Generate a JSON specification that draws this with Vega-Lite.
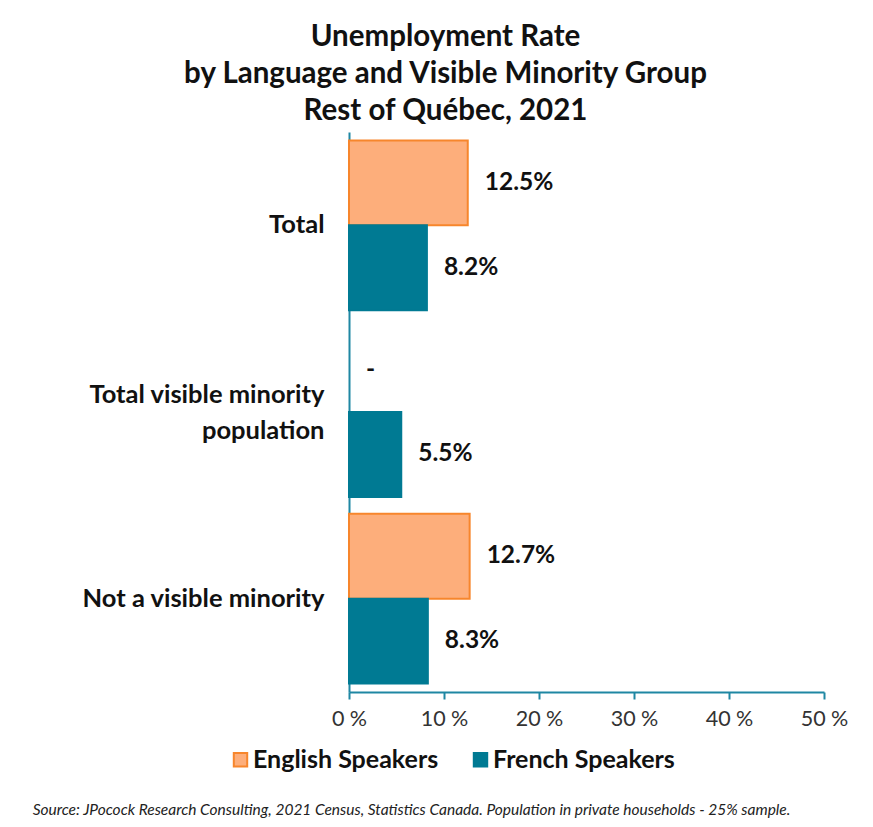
{
  "$schema": "https://vega.github.io/schema/vega-lite/v6.json",
  "autosize": {"type": "none"},
  "padding": {"left": 349, "top": 132, "right": 49, "bottom": 135},
  "width": 475,
  "height": 560,
  "background": "white",
  "config": {
    "font": "Lato",
    "view": {"stroke": null}
  },
  "title": {
    "text": ["Unemployment Rate", "by Language and Visible Minority Group", "Rest of Québec, 2021"],
    "font": "Lato",
    "fontSize": 29.5,
    "fontWeight": "bold",
    "color": "#111111",
    "lineHeight": 37,
    "anchor": "middle",
    "frame": "group",
    "dx": -141,
    "offset": 6
  },
  "data": {
    "values": [
      {"category": "Total", "language": "English Speakers", "value": 12.5, "label": "12.5%"},
      {"category": "Total", "language": "French Speakers", "value": 8.2, "label": "8.2%"},
      {"category": "Total visible minority population", "language": "English Speakers", "value": null, "label": "-"},
      {"category": "Total visible minority population", "language": "French Speakers", "value": 5.5, "label": "5.5%"},
      {"category": "Not a visible minority", "language": "English Speakers", "value": 12.7, "label": "12.7%"},
      {"category": "Not a visible minority", "language": "French Speakers", "value": 8.3, "label": "8.3%"}
    ]
  },
  "encoding": {
    "y": {
      "field": "category",
      "type": "nominal",
      "sort": ["Total", "Total visible minority population", "Not a visible minority"],
      "scale": {"paddingInner": 0.09, "paddingOuter": 0.045},
      "axis": {
        "title": null,
        "ticks": false,
        "domainColor": "#1f87a3",
        "domainWidth": 2,
        "labelFont": "Lato",
        "labelFontSize": 25.5,
        "labelFontWeight": "bold",
        "labelColor": "#111111",
        "labelPadding": 25,
        "labelLineHeight": 36,
        "labelLimit": 400,
        "labelOffset": {"condition": {"test": "datum.value == 'Total visible minority population'", "value": -17}, "value": 0},
        "labelExpr": "datum.value == 'Total visible minority population' ? ['Total visible minority', 'population'] : datum.value"
      }
    },
    "yOffset": {
      "field": "language",
      "type": "nominal",
      "sort": ["English Speakers", "French Speakers"],
      "scale": {"paddingInner": 0, "paddingOuter": 0}
    }
  },
  "layer": [
    {
      "mark": {"type": "bar", "strokeWidth": 2},
      "encoding": {
        "x": {
          "field": "value",
          "type": "quantitative",
          "scale": {"domain": [0, 50], "nice": false},
          "axis": {
            "title": "Source: JPocock Research Consulting, 2021 Census, Statistics Canada. Population in private households - 25% sample.",
            "titleFont": "Lato",
            "titleFontSize": 15.5,
            "titleFontStyle": "italic",
            "titleFontWeight": "normal",
            "titleColor": "#222222",
            "titleAnchor": "middle",
            "titleX": 62,
            "titleY": 110,
            "values": [0, 10, 20, 30, 40, 50],
            "grid": false,
            "domainColor": "#1f87a3",
            "domainWidth": 2,
            "tickColor": "#1f87a3",
            "tickWidth": 2,
            "tickSize": 7,
            "labelFont": "Lato",
            "labelFontSize": 21.5,
            "labelColor": "#333333",
            "labelPadding": 9,
            "labelFlush": false,
            "labelExpr": "datum.value + ' %'"
          }
        },
        "fill": {
          "field": "language",
          "type": "nominal",
          "scale": {"domain": ["English Speakers", "French Speakers"], "range": ["#fdae7b", "#007a93"]},
          "legend": {
            "title": null,
            "orient": "none",
            "direction": "horizontal",
            "legendX": -121,
            "legendY": 615,
            "symbolType": "square",
            "symbolSize": 180,
            "symbolStrokeWidth": 2,
            "labelFont": "Lato",
            "labelFontSize": 25,
            "labelFontWeight": "bold",
            "labelColor": "#111111",
            "labelLimit": 300,
            "columnPadding": 29,
            "labelOffset": 0
          }
        },
        "stroke": {
          "field": "language",
          "type": "nominal",
          "scale": {"domain": ["English Speakers", "French Speakers"], "range": ["#f7862c", "#007a93"]},
          "legend": {
            "title": null,
            "orient": "none",
            "direction": "horizontal",
            "legendX": -121,
            "legendY": 615,
            "symbolType": "square",
            "symbolSize": 180,
            "symbolStrokeWidth": 2,
            "labelFont": "Lato",
            "labelFontSize": 25,
            "labelFontWeight": "bold",
            "labelColor": "#111111",
            "labelLimit": 300,
            "columnPadding": 29,
            "labelOffset": 0
          }
        }
      }
    },
    {
      "transform": [{"calculate": "isValid(datum.value) ? datum.value : 0", "as": "xpos"}],
      "mark": {"type": "text", "align": "left", "baseline": "middle", "dx": 17, "font": "Lato", "fontSize": 24.5, "fontWeight": "bold", "color": "#111111"},
      "encoding": {
        "x": {"field": "xpos", "type": "quantitative"},
        "text": {"field": "label", "type": "nominal"}
      }
    }
  ]
}
